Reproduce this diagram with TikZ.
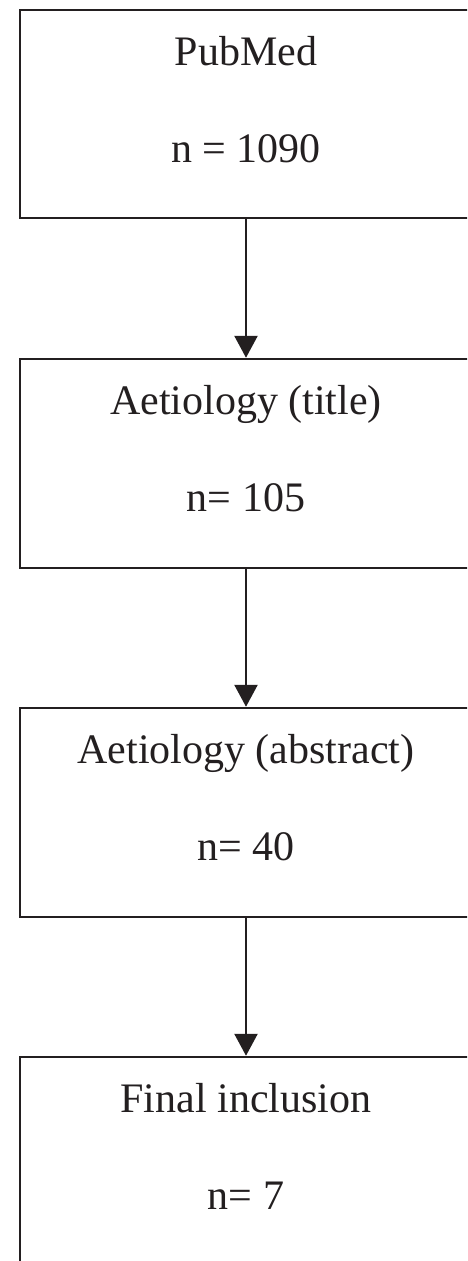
\documentclass[tikz,border=0pt]{standalone}
\usepackage{fontspec}
\setmainfont{Liberation Serif}
\usetikzlibrary{arrows.meta}
\definecolor{ink}{HTML}{231F20}
\begin{document}
\begin{tikzpicture}[x=1pt,y=-1pt,
  box/.style={draw=ink,line width=2.5pt,minimum width=452pt,inner sep=0pt},
  txt/.style={anchor=base,text=ink,inner sep=0pt,font=\fontsize{42}{50}\selectfont},
  arr/.style={draw=ink,line width=2.5pt,-{Triangle[width=23pt,length=22pt]}}]
\useasboundingbox (0,0) rectangle (467,1261);
\clip (0,0) rectangle (467,1261);
\fill[white] (0,0) rectangle (467,1261);
\node[box,minimum height=208pt] (b1) at (246,114) {};
\node[box,minimum height=209pt] (b2) at (246,463.5) {};
\node[box,minimum height=209pt] (b3) at (246,812.5) {};
\node[box,minimum height=209pt] (b4) at (246,1161.5) {};
\node[txt] (t1) at (246,65) {PubMed};
\node[txt] (n1) at (246,162) {n = 1090};
\node[txt] (t2) at (246,414) {Aetiology (title)};
\node[txt] (n2) at (246,511) {n= 105};
\node[txt] (t3) at (246,763) {Aetiology (abstract)};
\node[txt] (n3) at (246,860) {n= 40};
\node[txt] (t4) at (246,1112) {Final inclusion};
\node[txt] (n4) at (246,1209) {n= 7};
\draw[arr] (b1.south) -- (b2.north);
\draw[arr] (b2.south) -- (b3.north);
\draw[arr] (b3.south) -- (b4.north);
\end{tikzpicture}
\end{document}
